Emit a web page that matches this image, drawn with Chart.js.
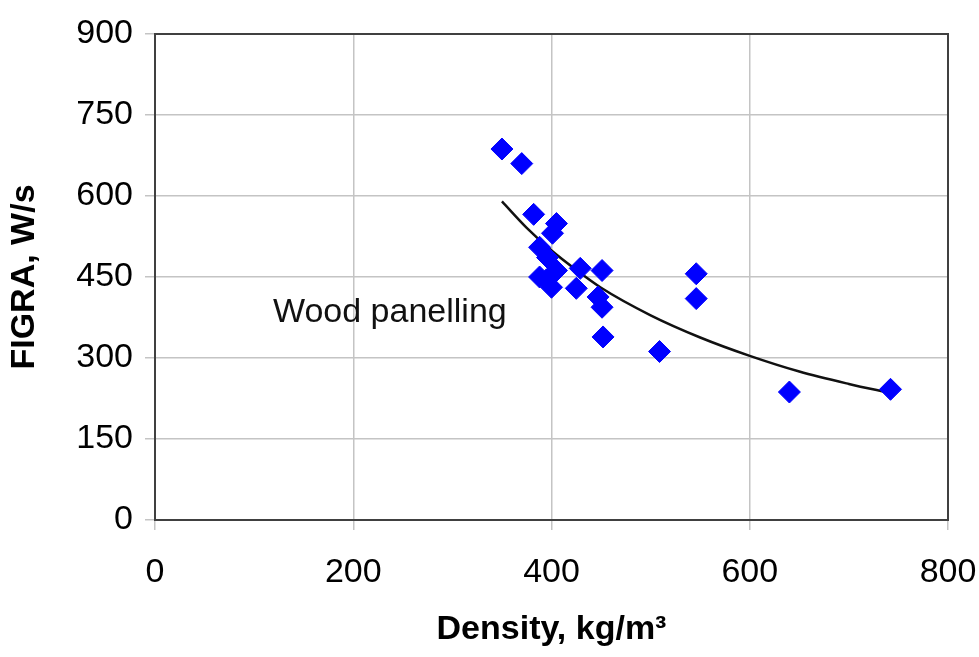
<!DOCTYPE html>
<html>
<head>
<meta charset="utf-8">
<script src="https://cdn.jsdelivr.net/npm/chart.js@4.4.1/dist/chart.umd.min.js"></script>
<style>
  html, body { margin: 0; padding: 0; background: #ffffff; }
  #wrap { width: 979px; height: 657px; }
</style>
</head>
<body>
<div id="wrap"><canvas id="c" width="979" height="657"></canvas></div>
<script>
// Measured data: density (kg/m3) vs FIGRA (W/s)
const densityValues = [350, 370, 382, 405, 401, 388, 396, 388, 400, 395, 405, 429, 451, 425, 447, 451, 452, 509, 546, 546, 640, 742];
const figraValues   = [687, 660, 566, 549, 531, 505, 486, 450, 431, 445, 462, 466, 462, 429, 413, 394, 339, 312, 456, 410, 237, 242];

// Trend curve
const trendDensity = [350, 375, 400, 425, 450, 500, 550, 600, 650, 700, 742];
const trendFigra   = [590, 541, 499, 463, 430, 379, 338, 304, 275, 252, 235];

const xTicks = [0, 200, 400, 600, 800];
const yTicks = [0, 150, 300, 450, 600, 750, 900];

const annotationText = 'Wood panelling';
const annotationAt = { x: 119, y: 384 };

const points = densityValues.map((d, i) => ({ x: d, y: figraValues[i] }));
const trend = trendDensity.map((d, i) => ({ x: d, y: trendFigra[i] }));

const FONT = "'Liberation Sans', Arial, sans-serif";

const framePlugin = {
  id: 'frame',
  afterDraw(chart) {
    const { ctx, chartArea: a } = chart;
    ctx.save();
    ctx.strokeStyle = '#404040';
    ctx.lineWidth = 2;
    ctx.strokeRect(a.left, a.top, a.right - a.left, a.bottom - a.top);
    ctx.restore();
  }
};

const labelPlugin = {
  id: 'annot',
  afterDatasetsDraw(chart) {
    const { ctx, scales } = chart;
    ctx.save();
    ctx.font = '34px ' + FONT;
    ctx.fillStyle = '#111111';
    ctx.textAlign = 'left';
    ctx.textBaseline = 'middle';
    ctx.fillText(annotationText, scales.x.getPixelForValue(annotationAt.x), scales.y.getPixelForValue(annotationAt.y));
    ctx.restore();
  }
};

new Chart(document.getElementById('c'), {
  type: 'scatter',
  data: {
    datasets: [
      {
        label: 'Trend',
        type: 'line',
        data: trend,
        borderColor: '#111111',
        borderWidth: 2.5,
        pointRadius: 0,
        fill: false,
        tension: 0.4,
        cubicInterpolationMode: 'monotone',
        order: 2
      },
      {
        label: 'Wood panelling',
        data: points,
        pointStyle: 'rectRot',
        pointRadius: 11,
        pointBackgroundColor: '#0000ff',
        pointBorderColor: '#0000ff',
        pointBorderWidth: 1,
        order: 1
      }
    ]
  },
  options: {
    responsive: false,
    animation: false,
    devicePixelRatio: 1,
    layout: { padding: { top: 34, right: 31, left: 0, bottom: 0 } },
    plugins: {
      legend: { display: false },
      tooltip: { enabled: false }
    },
    scales: {
      x: {
        type: 'linear',
        min: 0, max: 800,
        afterBuildTicks(scale) { scale.ticks = xTicks.map(v => ({ value: v })); },
        afterFit(scale) { scale.height = 137; scale.paddingLeft = 0; scale.paddingRight = 0; },
        ticks: { color: '#000000', font: { family: FONT, size: 34 }, padding: 22 },
        grid: { color: '#c4c4c4', lineWidth: 1.5, tickLength: 10, tickColor: '#c4c4c4' },
        border: { display: false },
        title: {
          display: true,
          text: 'Density, kg/m³',
          color: '#000000',
          font: { family: FONT, size: 34, weight: 'bold' },
          padding: { top: 0, bottom: 7 }
        }
      },
      y: {
        type: 'linear',
        min: 0, max: 900,
        afterBuildTicks(scale) { scale.ticks = yTicks.map(v => ({ value: v })); },
        afterFit(scale) { scale.width = 155; scale.paddingTop = 0; scale.paddingBottom = 0; },
        ticks: { color: '#000000', font: { family: FONT, size: 34 }, padding: 12 },
        grid: { color: '#c4c4c4', lineWidth: 1.5, tickLength: 10, tickColor: '#c4c4c4' },
        border: { display: false },
        title: {
          display: true,
          text: 'FIGRA, W/s',
          color: '#000000',
          font: { family: FONT, size: 34, weight: 'bold' },
          padding: { top: 4, bottom: 0 }
        }
      }
    }
  },
  plugins: [framePlugin, labelPlugin]
});
</script>
</body>
</html>
